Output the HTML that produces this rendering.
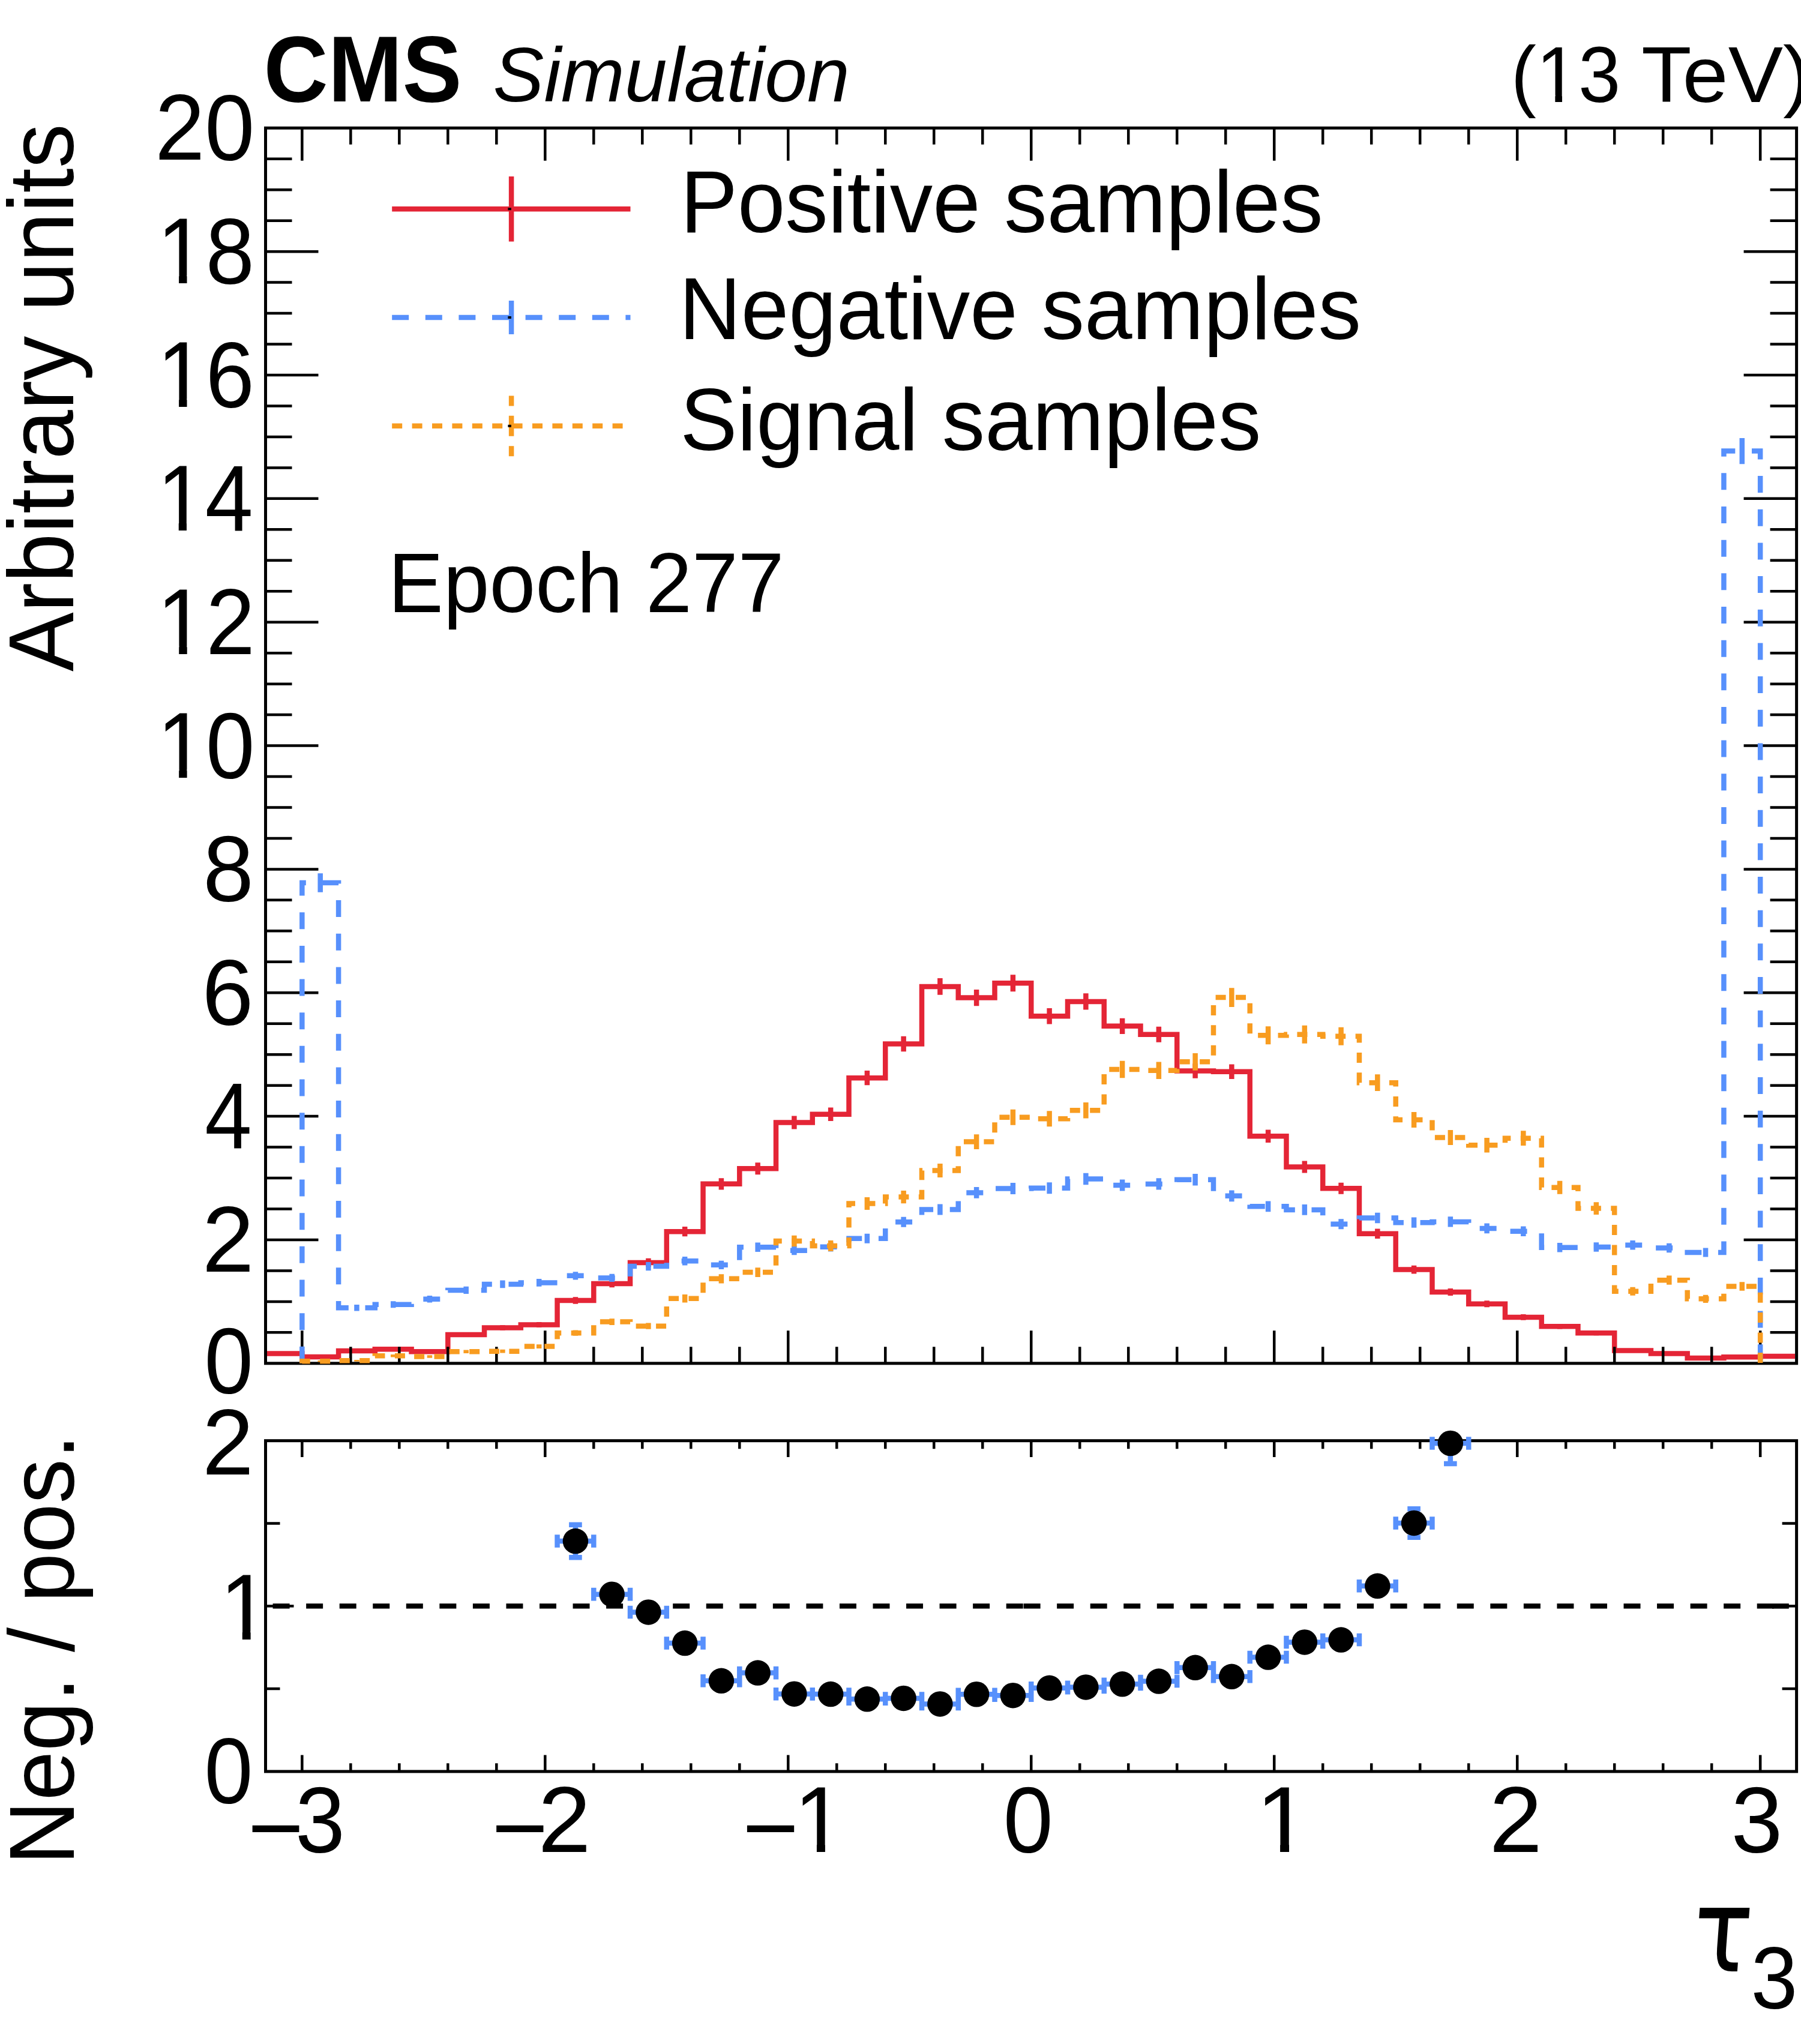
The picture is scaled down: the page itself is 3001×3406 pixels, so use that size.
<!DOCTYPE html>
<html><head><meta charset="utf-8"><title>tau3</title><style>html,body{margin:0;padding:0;background:#fff}</style></head><body>
<svg width="3001" height="3406" viewBox="0 0 3001 3406" style="display:block">
<rect width="3001" height="3406" fill="#fff"/>
<defs>
<clipPath id="cm"><rect x="445" y="213.3" width="2546.1" height="2061"/></clipPath>
</defs>
<g clip-path="url(#cm)" fill="none" stroke-linejoin="miter" stroke-linecap="butt">
<path d="M442.5 2255.43 L503.34 2255.43 L503.34 2260.99 L564.09 2260.99 L564.09 2251.06 L624.83 2251.06 L624.83 2248.23 L685.58 2248.23 L685.58 2252.35 L746.32 2252.35 L746.32 2223.99 L807.07 2223.99 L807.07 2212.52 L867.81 2212.52 L867.81 2207.47 L928.56 2207.47 L928.56 2167.02 L989.3 2167.02 L989.3 2138.92 L1050.05 2138.92 L1050.05 2103.93 L1110.8 2103.93 L1110.8 2052.16 L1171.54 2052.16 L1171.54 1972.8 L1232.29 1972.8 L1232.29 1947.17 L1293.03 1947.17 L1293.03 1870.5 L1353.78 1870.5 L1353.78 1856.7 L1414.52 1856.7 L1414.52 1796.18 L1475.27 1796.18 L1475.27 1739.47 L1536.01 1739.47 L1536.01 1643.96 L1596.76 1643.96 L1596.76 1662.59 L1657.5 1662.59 L1657.5 1638.3 L1718.25 1638.3 L1718.25 1693.26 L1779 1693.26 L1779 1668.97 L1839.74 1668.97 L1839.74 1709.83 L1900.49 1709.83 L1900.49 1723.83 L1961.23 1723.83 L1961.23 1784.45 L2021.98 1784.45 L2021.98 1785.69 L2082.72 1785.69 L2082.72 1893.24 L2143.47 1893.24 L2143.47 1944.5 L2204.21 1944.5 L2204.21 1980.21 L2264.96 1980.21 L2264.96 2055.76 L2325.7 2055.76 L2325.7 2115.56 L2386.45 2115.56 L2386.45 2152.92 L2447.2 2152.92 L2447.2 2172.68 L2507.94 2172.68 L2507.94 2194.92 L2568.69 2194.92 L2568.69 2210.25 L2629.43 2210.25 L2629.43 2221.37 L2690.18 2221.37 L2690.18 2250.6 L2750.92 2250.6 L2750.92 2255.54 L2811.67 2255.54 L2811.67 2263.05 L2872.41 2263.05 L2872.41 2261.15 L2933.16 2261.15 L2933.16 2260.07 L2993.6 2260.07" stroke="#e42536" stroke-width="8.5"/>
<path d="M472.97 2253.19V2257.68M533.71 2259.17V2262.81M594.46 2248.54V2253.58M655.2 2245.54V2250.92M715.95 2249.9V2254.79M776.69 2220.16V2227.82M837.44 2208.25V2216.78M898.19 2203.03V2211.91M958.93 2161.35V2172.69M1019.68 2132.54V2145.31M1080.42 2096.75V2111.11M1141.17 2043.95V2060.37M1201.91 1963.22V1982.38M1262.66 1937.19V1957.15M1323.4 1859.4V1881.59M1384.15 1845.42V1867.99M1444.9 1784.1V1808.26M1505.64 1726.69V1752.25M1566.39 1630.08V1657.84M1627.13 1648.91V1676.26M1687.88 1624.35V1652.24M1748.62 1679.94V1706.58M1809.37 1655.37V1682.57M1870.11 1696.7V1722.96M1930.86 1710.86V1736.79M1991.6 1772.22V1796.68M2052.35 1773.47V1797.9M2113.1 1882.46V1904.02M2173.84 1934.48V1954.52M2234.59 1970.75V1989.67M2295.33 2047.62V2063.9M2356.08 2108.64V2122.48M2416.82 2146.88V2158.96M2477.57 2167.17V2178.2M2538.31 2190.06V2199.77M2599.06 2205.91V2214.6M2659.81 2217.43V2225.3M2720.55 2248.05V2253.15M2781.3 2253.3V2257.77M2842.04 2261.41V2264.69M2902.79 2259.34V2262.96M2963.53 2258.17V2261.96" stroke="#e42536" stroke-width="8.5"/>
</g>
<path d="M442.5 2220.34h44M2993.6 2220.34h-44M442.5 2168.88h44M2993.6 2168.88h-44M442.5 2117.41h44M2993.6 2117.41h-44M442.5 2065.95h88M2993.6 2065.95h-88M442.5 2014.49h44M2993.6 2014.49h-44M442.5 1963.03h44M2993.6 1963.03h-44M442.5 1911.56h44M2993.6 1911.56h-44M442.5 1860.1h88M2993.6 1860.1h-88M442.5 1808.64h44M2993.6 1808.64h-44M442.5 1757.18h44M2993.6 1757.18h-44M442.5 1705.71h44M2993.6 1705.71h-44M442.5 1654.25h88M2993.6 1654.25h-88M442.5 1602.79h44M2993.6 1602.79h-44M442.5 1551.33h44M2993.6 1551.33h-44M442.5 1499.86h44M2993.6 1499.86h-44M442.5 1448.4h88M2993.6 1448.4h-88M442.5 1396.94h44M2993.6 1396.94h-44M442.5 1345.48h44M2993.6 1345.48h-44M442.5 1294.01h44M2993.6 1294.01h-44M442.5 1242.55h88M2993.6 1242.55h-88M442.5 1191.09h44M2993.6 1191.09h-44M442.5 1139.63h44M2993.6 1139.63h-44M442.5 1088.16h44M2993.6 1088.16h-44M442.5 1036.7h88M2993.6 1036.7h-88M442.5 985.24h44M2993.6 985.24h-44M442.5 933.78h44M2993.6 933.78h-44M442.5 882.31h44M2993.6 882.31h-44M442.5 830.85h88M2993.6 830.85h-88M442.5 779.39h44M2993.6 779.39h-44M442.5 727.93h44M2993.6 727.93h-44M442.5 676.46h44M2993.6 676.46h-44M442.5 625h88M2993.6 625h-88M442.5 573.54h44M2993.6 573.54h-44M442.5 522.08h44M2993.6 522.08h-44M442.5 470.61h44M2993.6 470.61h-44M442.5 419.15h88M2993.6 419.15h-88M442.5 367.69h44M2993.6 367.69h-44M442.5 316.23h44M2993.6 316.23h-44M442.5 264.76h44M2993.6 264.76h-44M503.34 213.3v54.5M503.34 2271.8v-54.5M584.33 213.3v27.5M584.33 2271.8v-27.5M665.33 213.3v27.5M665.33 2271.8v-27.5M746.32 213.3v27.5M746.32 2271.8v-27.5M827.32 213.3v27.5M827.32 2271.8v-27.5M908.31 213.3v54.5M908.31 2271.8v-54.5M989.3 213.3v27.5M989.3 2271.8v-27.5M1070.3 213.3v27.5M1070.3 2271.8v-27.5M1151.29 213.3v27.5M1151.29 2271.8v-27.5M1232.29 213.3v27.5M1232.29 2271.8v-27.5M1313.28 213.3v54.5M1313.28 2271.8v-54.5M1394.27 213.3v27.5M1394.27 2271.8v-27.5M1475.27 213.3v27.5M1475.27 2271.8v-27.5M1556.26 213.3v27.5M1556.26 2271.8v-27.5M1637.26 213.3v27.5M1637.26 2271.8v-27.5M1718.25 213.3v54.5M1718.25 2271.8v-54.5M1799.24 213.3v27.5M1799.24 2271.8v-27.5M1880.24 213.3v27.5M1880.24 2271.8v-27.5M1961.23 213.3v27.5M1961.23 2271.8v-27.5M2042.23 213.3v27.5M2042.23 2271.8v-27.5M2123.22 213.3v54.5M2123.22 2271.8v-54.5M2204.21 213.3v27.5M2204.21 2271.8v-27.5M2285.21 213.3v27.5M2285.21 2271.8v-27.5M2366.2 213.3v27.5M2366.2 2271.8v-27.5M2447.2 213.3v27.5M2447.2 2271.8v-27.5M2528.19 213.3v54.5M2528.19 2271.8v-54.5M2609.18 213.3v27.5M2609.18 2271.8v-27.5M2690.18 213.3v27.5M2690.18 2271.8v-27.5M2771.17 213.3v27.5M2771.17 2271.8v-27.5M2852.17 213.3v27.5M2852.17 2271.8v-27.5M2933.16 213.3v54.5M2933.16 2271.8v-54.5" stroke="#000" stroke-width="4.5" fill="none"/>
<path d="M442.5 2814.1h24M2993.6 2814.1h-24M442.5 2676.3h47M2993.6 2676.3h-47M442.5 2538.5h24M2993.6 2538.5h-24M503.34 2400.7v27.4M503.34 2951.9v-27.4M584.33 2400.7v13.6M584.33 2951.9v-13.6M665.33 2400.7v13.6M665.33 2951.9v-13.6M746.32 2400.7v13.6M746.32 2951.9v-13.6M827.32 2400.7v13.6M827.32 2951.9v-13.6M908.31 2400.7v27.4M908.31 2951.9v-27.4M989.3 2400.7v13.6M989.3 2951.9v-13.6M1070.3 2400.7v13.6M1070.3 2951.9v-13.6M1151.29 2400.7v13.6M1151.29 2951.9v-13.6M1232.29 2400.7v13.6M1232.29 2951.9v-13.6M1313.28 2400.7v27.4M1313.28 2951.9v-27.4M1394.27 2400.7v13.6M1394.27 2951.9v-13.6M1475.27 2400.7v13.6M1475.27 2951.9v-13.6M1556.26 2400.7v13.6M1556.26 2951.9v-13.6M1637.26 2400.7v13.6M1637.26 2951.9v-13.6M1718.25 2400.7v27.4M1718.25 2951.9v-27.4M1799.24 2400.7v13.6M1799.24 2951.9v-13.6M1880.24 2400.7v13.6M1880.24 2951.9v-13.6M1961.23 2400.7v13.6M1961.23 2951.9v-13.6M2042.23 2400.7v13.6M2042.23 2951.9v-13.6M2123.22 2400.7v27.4M2123.22 2951.9v-27.4M2204.21 2400.7v13.6M2204.21 2951.9v-13.6M2285.21 2400.7v13.6M2285.21 2951.9v-13.6M2366.2 2400.7v13.6M2366.2 2951.9v-13.6M2447.2 2400.7v13.6M2447.2 2951.9v-13.6M2528.19 2400.7v27.4M2528.19 2951.9v-27.4M2609.18 2400.7v13.6M2609.18 2951.9v-13.6M2690.18 2400.7v13.6M2690.18 2951.9v-13.6M2771.17 2400.7v13.6M2771.17 2951.9v-13.6M2852.17 2400.7v13.6M2852.17 2951.9v-13.6M2933.16 2400.7v27.4M2933.16 2951.9v-27.4" stroke="#000" stroke-width="4.5" fill="none"/>
<rect x="442.5" y="213.3" width="2551.1" height="2058.5" fill="none" stroke="#000" stroke-width="5"/>
<rect x="442.5" y="2400.7" width="2551.1" height="551.2" fill="none" stroke="#000" stroke-width="5"/>
<g clip-path="url(#cm)" fill="none" stroke-linejoin="miter" stroke-linecap="butt">
<path d="M503.34 2271.8 L503.34 1471.04 L564.09 1471.04 L564.09 2179.27 L624.83 2179.27 L624.83 2173.71 L685.58 2173.71 L685.58 2164.76 L746.32 2164.76 L746.32 2149.94 L807.07 2149.94 L807.07 2139.95 L867.81 2139.95 L867.81 2137.38 L928.56 2137.38 L928.56 2125.85 L989.3 2125.85 L989.3 2129.45 L1050.05 2129.45 L1050.05 2110.1 L1110.8 2110.1 L1110.8 2101.36 L1171.54 2101.36 L1171.54 2107.84 L1232.29 2107.84 L1232.29 2078.3 L1293.03 2078.3 L1293.03 2083.65 L1353.78 2083.65 L1353.78 2077.68 L1414.52 2077.68 L1414.52 2063.69 L1475.27 2063.69 L1475.27 2036.2 L1536.01 2036.2 L1536.01 2015.52 L1596.76 2015.52 L1596.76 1987.42 L1657.5 1987.42 L1657.5 1980.52 L1718.25 1980.52 L1718.25 1979.8 L1779 1979.8 L1779 1964.47 L1839.74 1964.47 L1839.74 1974.96 L1900.49 1974.96 L1900.49 1972.91 L1961.23 1972.91 L1961.23 1965.8 L2021.98 1965.8 L2021.98 1992.87 L2082.72 1992.87 L2082.72 2010.37 L2143.47 2010.37 L2143.47 2015.93 L2204.21 2015.93 L2204.21 2039.7 L2264.96 2039.7 L2264.96 2029.51 L2325.7 2029.51 L2325.7 2037.13 L2386.45 2037.13 L2386.45 2035.9 L2447.2 2035.9 L2447.2 2046.91 L2507.94 2046.91 L2507.94 2051.64 L2568.69 2051.64 L2568.69 2078.71 L2629.43 2078.71 L2629.43 2078.1 L2690.18 2078.1 L2690.18 2074.8 L2750.92 2074.8 L2750.92 2079.54 L2811.67 2079.54 L2811.67 2087.05 L2872.41 2087.05 L2872.41 751.6 L2933.16 751.6 L2933.16 2271.8" stroke="#5790fc" stroke-width="8.5" stroke-dasharray="28 27.66"/>
<path d="M533.71 1455.31V1486.78M594.46 2173.92V2184.62M655.2 2168.21V2179.22M715.95 2159.01V2170.51M776.69 2143.8V2156.07M837.44 2133.57V2146.34M898.19 2130.93V2143.83M958.93 2119.14V2132.57M1019.68 2122.82V2136.09M1080.42 2103.04V2117.17M1141.17 2094.1V2108.61M1201.91 2100.72V2114.96M1262.66 2070.57V2086.03M1323.4 2076.03V2091.28M1384.15 2069.94V2085.43M1444.9 2055.67V2071.71M1505.64 2027.67V2044.74M1566.39 2006.62V2024.42M1627.13 1978.04V1996.79M1687.88 1971.03V1990.01M1748.62 1970.3V1989.3M1809.37 1954.72V1974.21M1870.11 1965.39V1984.54M1930.86 1963.29V1982.52M1991.6 1956.08V1975.53M2052.35 1983.59V2002.16M2113.1 2001.38V2019.36M2173.84 2007.04V2024.82M2234.59 2031.23V2048.17M2295.33 2020.86V2038.17M2356.08 2028.61V2045.65M2416.82 2027.36V2044.43M2477.57 2038.57V2055.25M2538.31 2043.39V2059.89M2599.06 2070.99V2086.44M2659.81 2070.36V2085.83M2720.55 2067V2082.6M2781.3 2071.83V2087.24M2842.04 2079.49V2094.61M2902.79 729.92V773.27" stroke="#5790fc" stroke-width="8.5"/>
</g>
<g clip-path="url(#cm)" fill="none" stroke-linejoin="miter" stroke-linecap="butt">
<path d="M503.34 2271.8 L503.34 2268.2 L564.09 2268.2 L564.09 2267.37 L624.83 2267.37 L624.83 2259.24 L685.58 2259.24 L685.58 2260.48 L746.32 2260.48 L746.32 2252.24 L807.07 2252.24 L807.07 2251.63 L867.81 2251.63 L867.81 2243.6 L928.56 2243.6 L928.56 2221.16 L989.3 2221.16 L989.3 2202.53 L1050.05 2202.53 L1050.05 2209.63 L1110.8 2209.63 L1110.8 2163.73 L1171.54 2163.73 L1171.54 2130.79 L1232.29 2130.79 L1232.29 2120.09 L1293.03 2120.09 L1293.03 2068.01 L1353.78 2068.01 L1353.78 2075.93 L1414.52 2075.93 L1414.52 2005.53 L1475.27 2005.53 L1475.27 1994.62 L1536.01 1994.62 L1536.01 1950.47 L1596.76 1950.47 L1596.76 1902.61 L1657.5 1902.61 L1657.5 1861.75 L1718.25 1861.75 L1718.25 1864.22 L1779 1864.22 L1779 1850.32 L1839.74 1850.32 L1839.74 1782.08 L1900.49 1782.08 L1900.49 1783.83 L1961.23 1783.83 L1961.23 1769.32 L2021.98 1769.32 L2021.98 1662.07 L2082.72 1662.07 L2082.72 1725.27 L2143.47 1725.27 L2143.47 1723.72 L2204.21 1723.72 L2204.21 1726.81 L2264.96 1726.81 L2264.96 1804.21 L2325.7 1804.21 L2325.7 1865.97 L2386.45 1865.97 L2386.45 1895.4 L2447.2 1895.4 L2447.2 1908.17 L2507.94 1908.17 L2507.94 1896.64 L2568.69 1896.64 L2568.69 1978.77 L2629.43 1978.77 L2629.43 2013.56 L2690.18 2013.56 L2690.18 2151.79 L2750.92 2151.79 L2750.92 2133.16 L2811.67 2133.16 L2811.67 2164.35 L2872.41 2164.35 L2872.41 2143.45 L2933.16 2143.45 L2933.16 2271.8" stroke="#f89c20" stroke-width="8.5" stroke-dasharray="17 16.43"/>
<path d="M533.71 2266.98V2269.42M594.46 2266.02V2268.73M655.2 2256.96V2261.52M715.95 2258.31V2262.64M776.69 2249.4V2255.09M837.44 2248.74V2254.52M898.19 2240.18V2247.01M958.93 2216.58V2225.74M1019.68 2197.18V2207.88M1080.42 2204.56V2214.7M1141.17 2157.04V2170.42M1201.91 2123.15V2138.43M1262.66 2112.17V2128.01M1323.4 2058.83V2077.19M1384.15 2066.93V2084.94M1444.9 1995.04V2016.03M1505.64 1983.91V2005.33M1566.39 1938.94V1962M1627.13 1890.25V1914.97M1687.88 1848.72V1874.77M1748.62 1851.23V1877.2M1809.37 1837.12V1863.53M1870.11 1767.85V1796.32M1930.86 1769.62V1798.04M1991.6 1754.9V1783.74M2052.35 1646.19V1677.95M2113.1 1710.23V1740.31M2173.84 1708.67V1738.78M2234.59 1711.8V1741.83M2295.33 1790.3V1818.12M2356.08 1853.01V1878.92M2416.82 1882.92V1907.88M2477.57 1895.9V1920.43M2538.31 1884.18V1909.1M2599.06 1967.76V1989.78M2659.81 2003.22V2023.9M2720.55 2144.74V2158.84M2781.3 2125.59V2140.73M2842.04 2157.68V2171.01M2902.79 2136.17V2150.74" stroke="#f89c20" stroke-width="8.5"/>
</g>
<path d="M653.2 348.2H1050.5" stroke="#e42536" stroke-width="8.5" fill="none"/>
<path d="M852.1 348.2v-54.3M852.1 348.2v54.3" stroke="#e42536" stroke-width="8.5" fill="none"/>
<rect x="846.4" y="346.2" width="5.5" height="4" fill="#000"/>
<path d="M653.2 529.0H1050.5" stroke="#5790fc" stroke-width="8.5" stroke-dasharray="28 27.6" fill="none"/>
<path d="M852.1 529.0v-27.9M852.1 529.0v27.9" stroke="#5790fc" stroke-width="8.5" stroke-dasharray="28 27.6" fill="none"/>
<rect x="846.4" y="527" width="5.5" height="4" fill="#000"/>
<path d="M653.2 709.8H1050.5" stroke="#f89c20" stroke-width="8.5" stroke-dasharray="17 16.4" fill="none"/>
<path d="M852.1 709.8v-54.3M852.1 709.8v54.3" stroke="#f89c20" stroke-width="8.5" stroke-dasharray="17 16.4" fill="none"/>
<rect x="846.4" y="707.8" width="5.5" height="4" fill="#000"/>
<path d="M454.6 2676.3H1705.6" stroke="#000" stroke-width="8.6" stroke-dasharray="28 27.55" fill="none"/>
<path d="M1705.6 2676.3H2980.8" stroke="#000" stroke-width="8.6" stroke-dasharray="28 27.55" fill="none"/>
<path d="M2953 2676.3H2980.8" stroke="#000" stroke-width="8.6" fill="none"/>
<path d="M928.56 2568.01H989.3M928.56 2557.21v21.6M989.3 2557.21v21.6M958.93 2568.01V2540.74M948.13 2540.74h21.6M958.93 2568.01V2595.28M948.13 2595.28h21.6M989.3 2656.66H1050.05M989.3 2645.86v21.6M1050.05 2645.86v21.6M1050.05 2686.44H1110.8M1050.05 2675.64v21.6M1110.8 2675.64v21.6M1110.8 2738.03H1171.54M1110.8 2727.23v21.6M1171.54 2727.23v21.6M1171.54 2800.77H1232.29M1171.54 2789.97v21.6M1232.29 2789.97v21.6M1232.29 2787.62H1293.03M1232.29 2776.82v21.6M1293.03 2776.82v21.6M1293.03 2822.69H1353.78M1293.03 2811.89v21.6M1353.78 2811.89v21.6M1353.78 2823.02H1414.52M1353.78 2812.22v21.6M1414.52 2812.22v21.6M1414.52 2831.31H1475.27M1414.52 2820.51v21.6M1475.27 2820.51v21.6M1475.27 2829.93H1536.01M1475.27 2819.13v21.6M1536.01 2819.13v21.6M1536.01 2839.4H1596.76M1536.01 2828.6v21.6M1596.76 2828.6v21.6M1596.76 2823.25H1657.5M1596.76 2812.45v21.6M1657.5 2812.45v21.6M1657.5 2825.18H1718.25M1657.5 2814.38v21.6M1718.25 2814.38v21.6M1718.25 2812.8H1779M1718.25 2802v21.6M1779 2802v21.6M1779 2811.39H1839.74M1779 2800.59v21.6M1839.74 2800.59v21.6M1839.74 2806.33H1900.49M1839.74 2795.53v21.6M1900.49 2795.53v21.6M1900.49 2801.57H1961.23M1900.49 2790.77v21.6M1961.23 2790.77v21.6M1961.23 2778.86H2021.98M1961.23 2768.06v21.6M2021.98 2768.06v21.6M2021.98 2793.76H2082.72M2021.98 2782.96v21.6M2082.72 2782.96v21.6M2082.72 2761.57H2143.47M2082.72 2750.77v21.6M2143.47 2750.77v21.6M2143.47 2736.45H2204.21M2143.47 2725.65v21.6M2204.21 2725.65v21.6M2204.21 2732.53H2264.96M2204.21 2721.73v21.6M2264.96 2721.73v21.6M2264.96 2642.82H2325.7M2264.96 2632.02v21.6M2325.7 2632.02v21.6M2325.7 2537.96H2386.45M2325.7 2527.16v21.6M2386.45 2527.16v21.6M2356.08 2537.96V2514.24M2345.28 2514.24h21.6M2356.08 2537.96V2561.67M2345.28 2561.67h21.6M2386.45 2405H2447.2M2386.45 2394.2v21.6M2447.2 2394.2v21.6M2416.82 2405V2439.11M2406.02 2439.11h21.6" stroke="#5790fc" stroke-width="8.5" fill="none"/>
<g fill="#000"><circle cx="958.93" cy="2568.01" r="21.25"/><circle cx="1019.68" cy="2656.66" r="21.25"/><circle cx="1080.42" cy="2686.44" r="21.25"/><circle cx="1141.17" cy="2738.03" r="21.25"/><circle cx="1201.91" cy="2800.77" r="21.25"/><circle cx="1262.66" cy="2787.62" r="21.25"/><circle cx="1323.4" cy="2822.69" r="21.25"/><circle cx="1384.15" cy="2823.02" r="21.25"/><circle cx="1444.9" cy="2831.31" r="21.25"/><circle cx="1505.64" cy="2829.93" r="21.25"/><circle cx="1566.39" cy="2839.4" r="21.25"/><circle cx="1627.13" cy="2823.25" r="21.25"/><circle cx="1687.88" cy="2825.18" r="21.25"/><circle cx="1748.62" cy="2812.8" r="21.25"/><circle cx="1809.37" cy="2811.39" r="21.25"/><circle cx="1870.11" cy="2806.33" r="21.25"/><circle cx="1930.86" cy="2801.57" r="21.25"/><circle cx="1991.6" cy="2778.86" r="21.25"/><circle cx="2052.35" cy="2793.76" r="21.25"/><circle cx="2113.1" cy="2761.57" r="21.25"/><circle cx="2173.84" cy="2736.45" r="21.25"/><circle cx="2234.59" cy="2732.53" r="21.25"/><circle cx="2295.33" cy="2642.82" r="21.25"/><circle cx="2356.08" cy="2537.96" r="21.25"/><circle cx="2416.82" cy="2405" r="21.25"/></g>
<text transform="translate(439.59 168.8) scale(0.9488 1)" font-family="'Liberation Sans', sans-serif" font-size="156.5" font-weight="bold">CMS</text>
<text transform="translate(821.54 168.9) scale(0.9904 1)" font-family="'Liberation Sans', sans-serif" font-size="128.5" font-style="italic">Simulation</text>
<text transform="translate(2517.72 169.8) scale(0.9573 1)" font-family="'Liberation Sans', sans-serif" font-size="132" clip-path="url(#c0)">(13 <tspan x="227.1" textLength="293.96" lengthAdjust="spacingAndGlyphs">TeV)</tspan></text>
<text transform="translate(1133.79 386.6) scale(0.9710 1)" font-family="'Liberation Sans', sans-serif" font-size="147">Positive samples</text>
<text transform="translate(1131.57 564.8) scale(0.9727 1)" font-family="'Liberation Sans', sans-serif" font-size="147">Negative samples</text>
<text transform="translate(1133.31 750.3) scale(0.9712 1)" font-family="'Liberation Sans', sans-serif" font-size="147">Signal samples</text>
<text transform="translate(646.68 1019.9) scale(0.9808 1)" font-family="'Liberation Sans', sans-serif" font-size="140.7">Epoch 277</text>
<text transform="translate(122 1118.99) rotate(-90) scale(0.9639 1)" font-family="'Liberation Sans', sans-serif" font-size="153.5">Arbitrary units</text>
<text transform="translate(123.3 3107.77) rotate(-90) scale(0.9669 1)" font-family="'Liberation Sans', sans-serif" font-size="153.5">Neg. / pos.</text>
<text transform="translate(340.5 2321.3) scale(0.9379 1)" font-family="'Liberation Sans', sans-serif" font-size="156">0</text>
<text transform="translate(336.73 2118.95) scale(0.9994 1)" font-family="'Liberation Sans', sans-serif" font-size="156">2</text>
<text transform="translate(341.35 1913.1) scale(0.9033 1)" font-family="'Liberation Sans', sans-serif" font-size="156">4</text>
<text transform="translate(336.61 1707.25) scale(0.9907 1)" font-family="'Liberation Sans', sans-serif" font-size="156">6</text>
<text transform="translate(338.17 1501.4) scale(0.9743 1)" font-family="'Liberation Sans', sans-serif" font-size="156">8</text>
<text transform="translate(261.65 1295.55) scale(0.9379 1)" font-family="'Liberation Sans', sans-serif" font-size="156" clip-path="url(#c1)">10</text>
<text transform="translate(261.61 1089.7) scale(0.9409 1)" font-family="'Liberation Sans', sans-serif" font-size="156" clip-path="url(#c1)">12</text>
<text transform="translate(261.91 883.85) scale(0.9209 1)" font-family="'Liberation Sans', sans-serif" font-size="156" clip-path="url(#c1)">14</text>
<text transform="translate(261.69 678) scale(0.9354 1)" font-family="'Liberation Sans', sans-serif" font-size="156" clip-path="url(#c1)">16</text>
<text transform="translate(261.7 472.15) scale(0.9351 1)" font-family="'Liberation Sans', sans-serif" font-size="156" clip-path="url(#c1)">18</text>
<text transform="translate(258.27 265.6) scale(0.9563 1)" font-family="'Liberation Sans', sans-serif" font-size="156">20</text>
<text transform="translate(337.02 2456.6) scale(0.9882 1)" font-family="'Liberation Sans', sans-serif" font-size="156">2</text>
<text transform="translate(366.26 2731.9) scale(0.9642 1)" font-family="'Liberation Sans', sans-serif" font-size="156" clip-path="url(#c1)">1</text>
<text transform="translate(340.43 3003.7) scale(0.9325 1)" font-family="'Liberation Sans', sans-serif" font-size="156">0</text>
<text transform="translate(492.12 3086.3) scale(0.9554 1)" font-family="'Liberation Sans', sans-serif" font-size="156"><tspan x="-83.23" y="12.37" textLength="97.88" lengthAdjust="spacingAndGlyphs">−</tspan><tspan x="0" y="0">3</tspan></text>
<text transform="translate(896.5 3086.3) scale(1.0163 1)" font-family="'Liberation Sans', sans-serif" font-size="156"><tspan x="-76.3" y="12.37" textLength="92.61" lengthAdjust="spacingAndGlyphs">−</tspan><tspan x="0" y="0">2</tspan></text>
<text transform="translate(1323 3086.3) scale(0.9747 1)" font-family="'Liberation Sans', sans-serif" font-size="156" clip-path="url(#c1)"><tspan x="-88.39" y="12.37" textLength="96.56" lengthAdjust="spacingAndGlyphs">−</tspan><tspan x="0" y="0">1</tspan></text>
<text transform="translate(1671.68 3086.3) scale(0.9567 1)" font-family="'Liberation Sans', sans-serif" font-size="156">0</text>
<text transform="translate(2092.48 3086.3) scale(1.0430 1)" font-family="'Liberation Sans', sans-serif" font-size="156" clip-path="url(#c1)">1</text>
<text transform="translate(2481.38 3086.3) scale(1.0191 1)" font-family="'Liberation Sans', sans-serif" font-size="156">2</text>
<text transform="translate(2884.42 3086.3) scale(0.9894 1)" font-family="'Liberation Sans', sans-serif" font-size="156">3</text>
<text transform="translate(2816.51 3284.7) scale(0.8223 0.9689) skewX(-5)" font-family="'DejaVu Sans', 'Liberation Sans', sans-serif" font-size="200">τ</text>
<text transform="translate(2917.58 3347.22) scale(0.9572 1)" font-family="'Liberation Sans', sans-serif" font-size="146.4">3</text>
<defs><clipPath id="c0"><path clip-rule="evenodd" d="M-400 -400H4000V200H-400ZM41.32 -11.35H76.89V2.64H41.32ZM89.03 -11.35H117.35V2.64H89.03Z"/></clipPath><clipPath id="c1"><path clip-rule="evenodd" d="M-400 -400H4000V200H-400ZM-3.12 -13.42H38.92V3.12H-3.12ZM53.27 -13.42H86.74V3.12H53.27Z"/></clipPath></defs>
</svg>
</body></html>
